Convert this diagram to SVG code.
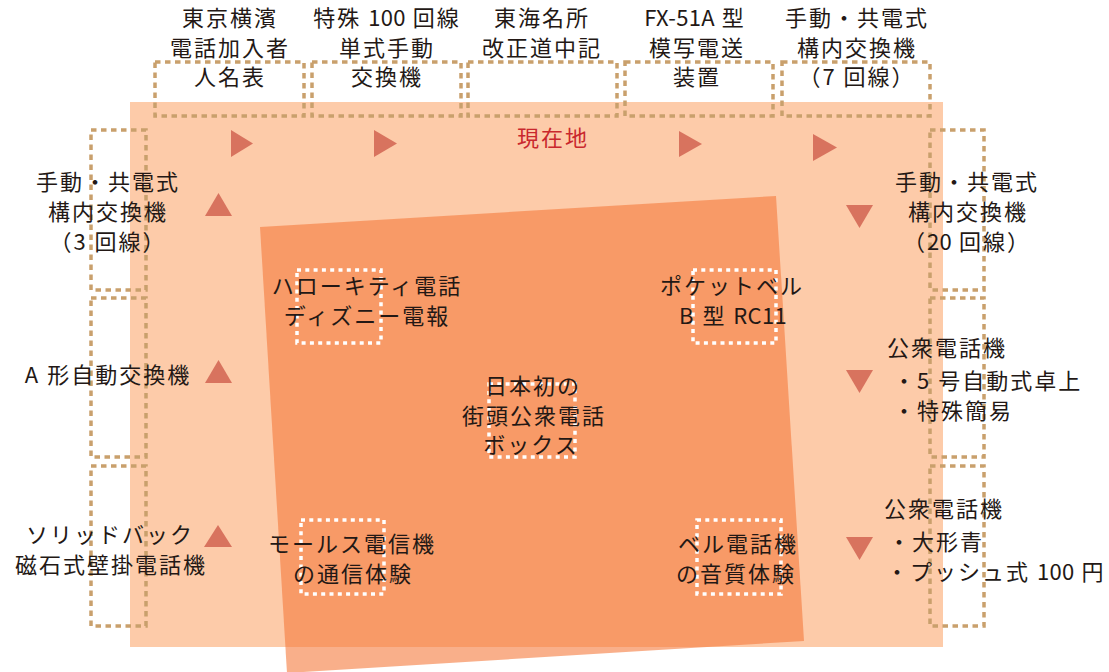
<svg xmlns="http://www.w3.org/2000/svg" width="1109" height="672" viewBox="0 0 1109 672">
<style>
.t{font-family:"Noto Sans CJK JP","Noto Sans",sans-serif;font-size:22px;letter-spacing:2px;fill:#231815}
.c{text-anchor:middle}
.l{letter-spacing:0.3px}
.red{fill:#C9282D}
.box{fill:none;stroke:#C9A06C;stroke-width:3.5;stroke-dasharray:5.5 4.5}
.wbox{fill:none;stroke:#FFFFFF;stroke-width:3.5;stroke-dasharray:4 4.3}
.arr{fill:#D8735E}
</style>
<rect id="area" x="130" y="102" width="813" height="545" fill="#FDCBA9"/>
<polygon id="exhibit-zone" points="260,227 776,196 804,641 287,673" fill="#F57A3C" fill-opacity="0.6"/>

<g id="connectors">
<polygon class="arr" points="231,130 253,143.5 231,157"/>
<polygon class="arr" points="374,130 397,143.5 374,157"/>
<polygon class="arr" points="679,131 702,144 679,157"/>
<polygon class="arr" points="813,134 837,147.5 813,161"/>
<polygon class="arr" points="205,216 218.5,193 232,216"/>
<polygon class="arr" points="205,383 218.5,360 232,383"/>
<polygon class="arr" points="204,547 218,525 232,547"/>
<polygon class="arr" points="846,205 873,205 859.5,228"/>
<polygon class="arr" points="846,370 873,370 859.5,393"/>
<polygon class="arr" points="846,537 873,537 859.5,560"/>
</g>

<g id="n-top1">
<rect class="box" x="155" y="62" width="149" height="54"/>
<text class="t c" x="230" y="25.5">東京横濱</text>
<text class="t c" x="230" y="55.5">電話加入者</text>
<text class="t c" x="230" y="85">人名表</text>
</g>
<g id="n-top2">
<rect class="box" x="312" y="62" width="149" height="54"/>
<text class="t c" x="387" y="25.5">特殊 <tspan class="l">100</tspan> 回線</text>
<text class="t c" x="387" y="55.5">単式手動</text>
<text class="t c" x="387" y="85">交換機</text>
</g>
<g id="n-top3">
<rect class="box" x="468" y="62" width="149" height="54"/>
<text class="t c" x="542" y="25.5">東海名所</text>
<text class="t c" x="542" y="55.5">改正道中記</text>
</g>
<g id="n-top4">
<rect class="box" x="625" y="62" width="148" height="54"/>
<text class="t c" x="695" y="25.5"><tspan class="l">FX-51A</tspan> 型</text>
<text class="t c" x="697" y="55.5">模写電送</text>
<text class="t c" x="697" y="85">装置</text>
</g>
<g id="n-top5">
<rect class="box" x="782" y="62" width="148" height="54"/>
<text class="t c" x="857" y="25.5">手動・共電式</text>
<text class="t c" x="857" y="55.5">構内交換機</text>
<text class="t c" x="857" y="85">（7 回線）</text>
</g>

<g id="n-genzaichi">
<text class="t c red" x="553" y="146">現在地</text>
</g>

<g id="n-left1">
<rect class="box" x="91" y="130" width="55" height="160"/>
<text class="t c" x="108" y="190">手動・共電式</text>
<text class="t c" x="108" y="220">構内交換機</text>
<text class="t c" x="108" y="249.5">（3 回線）</text>
</g>
<g id="n-left2">
<rect class="box" x="91" y="298" width="55" height="159"/>
<text class="t c" x="108" y="383">A 形自動交換機</text>
</g>
<g id="n-left3">
<rect class="box" x="91" y="466" width="55" height="160"/>
<text class="t c" x="110" y="543">ソリッドバック</text>
<text class="t c" x="111" y="572.5">磁石式壁掛電話機</text>
</g>

<g id="n-right1">
<rect class="box" x="930" y="130" width="54" height="160"/>
<text class="t c" x="967" y="190">手動・共電式</text>
<text class="t c" x="968" y="220">構内交換機</text>
<text class="t c" x="967" y="249.5">（<tspan class="l">20</tspan> 回線）</text>
</g>
<g id="n-right2">
<rect class="box" x="930" y="298" width="54" height="159"/>
<text class="t" x="887" y="356">公衆電話機</text>
<text class="t" x="893" y="389">・5 号自動式卓上</text>
<text class="t" x="893" y="419">・特殊簡易</text>
</g>
<g id="n-right3">
<rect class="box" x="930" y="466" width="54" height="160"/>
<text class="t" x="884" y="517">公衆電話機</text>
<text class="t" x="888" y="550">・大形青</text>
<text class="t" x="886" y="580">・プッシュ式 <tspan class="l">100</tspan> 円</text>
</g>

<g id="n-hellokitty">
<rect class="wbox" x="297" y="270" width="84" height="73"/>
<text class="t c" x="367" y="294">ハローキティ電話</text>
<text class="t c" x="367" y="324">ディズニー電報</text>
</g>
<g id="n-pocketbell">
<rect class="wbox" x="693" y="270" width="83" height="73"/>
<text class="t c" x="732" y="294">ポケットベル</text>
<text class="t c" x="733" y="324">B 型 <tspan class="l">RC11</tspan></text>
</g>
<g id="n-booth">
<rect class="wbox" x="489" y="384" width="86" height="73"/>
<text class="t c" x="533" y="394">日本初の</text>
<text class="t c" x="534" y="423.5">街頭公衆電話</text>
<text class="t c" x="531" y="453">ボックス</text>
</g>
<g id="n-morse">
<rect class="wbox" x="301" y="520" width="83" height="74"/>
<text class="t c" x="352" y="552">モールス電信機</text>
<text class="t c" x="353" y="582">の通信体験</text>
</g>
<g id="n-bell">
<rect class="wbox" x="697" y="520" width="84" height="74"/>
<text class="t c" x="738" y="552">ベル電話機</text>
<text class="t c" x="736" y="582">の音質体験</text>
</g>
</svg>
